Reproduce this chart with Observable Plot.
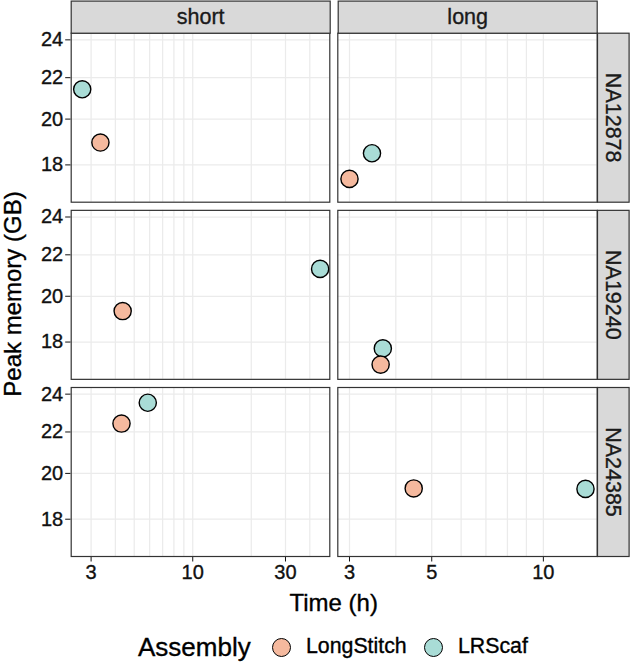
<!DOCTYPE html>
<html>
<head>
<meta charset="utf-8">
<script src="https://cdn.jsdelivr.net/npm/d3@7"></script>
<script src="https://cdn.jsdelivr.net/npm/@observablehq/plot@0.6"></script>
<style>
  html, body { margin: 0; padding: 0; background: #ffffff; }
  #chart { position: relative; width: 634px; height: 663px; overflow: hidden;
           font-family: "Liberation Sans", Arial, Helvetica, sans-serif; color: #000; }
  #chart svg text { stroke: currentColor; stroke-width: 0.35px; }
  .abs { position: absolute; }
  .lbl { position: absolute; line-height: 1; white-space: nowrap; -webkit-text-stroke: 0.35px #000; }
  .sw { position: absolute; box-sizing: border-box; border-radius: 50%; border: 1.4px solid #000; }
</style>
</head>
<body>
<div id="chart"></div>
<script>
// ---------------- data ----------------
const samples = ["NA12878", "NA19240", "NA24385"];
const readTypes = ["short", "long"];
const assemblies = ["LongStitch", "LRScaf"];
const assemblyColors = ["#F5B99E", "#A9DCD6"];

// short reads: time (h) and peak memory (GB), one value per sample
const shortTimeLongStitch = [3.35, 4.36, 4.30];
const shortMemLongStitch  = [18.95, 19.33, 22.43];
const shortTimeLRScaf     = [2.70, 45.2, 5.87];
const shortMemLRScaf      = [21.42, 21.30, 23.53];
// long reads
const longTimeLongStitch  = [3.00, 3.64, 4.47];
const longMemLongStitch   = [17.43, 17.09, 19.32];
const longTimeLRScaf      = [3.45, 3.69, 12.99];
const longMemLRScaf       = [18.49, 17.74, 19.30];

// ticks and grid breaks
const yTicks = [18, 20, 22, 24];
const shortXTicks = [3, 10, 30];
const longXTicks = [3, 5, 10];
const shortXGrid = [3, 4, 5, 6, 7, 8, 9, 10, 20, 30, 40];
const longXGrid = [3, 4, 5, 6, 7, 8, 9, 10];

const xTitle = "Time (h)";
const yTitle = "Peak memory (GB)";
const legendTitle = "Assembly";

// ---------------- build tables ----------------
function buildRows(tLS, mLS, tLR, mLR) {
  const rows = [];
  samples.forEach((s, i) => rows.push({sample: s, assembly: assemblies[1], time: tLR[i], mem: mLR[i]}));
  samples.forEach((s, i) => rows.push({sample: s, assembly: assemblies[0], time: tLS[i], mem: mLS[i]}));
  return rows;
}
const shortRows = buildRows(shortTimeLongStitch, shortMemLongStitch, shortTimeLRScaf, shortMemLRScaf);
const longRows  = buildRows(longTimeLongStitch, longMemLongStitch, longTimeLRScaf, longMemLRScaf);

// ---------------- layout ----------------
const FONT = '"Liberation Sans", Arial, Helvetica, sans-serif';
const panelTop = 32.7, panelBottom = 556, svgH = 600;
const rowGap = 8.15, rowBand = (panelBottom - panelTop - 2 * rowGap) / 3;
const fyPad = rowGap / (rowBand + rowGap);
const yDomain = [16.52, 24.37];
const chart = document.getElementById("chart");

function place(node, left, top) {
  const d = document.createElement("div");
  d.className = "abs";
  d.style.left = left + "px";
  d.style.top = top + "px";
  d.appendChild(node);
  chart.appendChild(d);
}

function columnPlot(rows, xDomain, xTicks, xGrid, showY, svgLeft, width, panelLeft, panelRight) {
  return Plot.plot({
    width, height: svgH,
    marginLeft: panelLeft - svgLeft,
    marginRight: width - (panelRight - svgLeft),
    marginTop: panelTop,
    marginBottom: svgH - panelBottom,
    style: {background: "transparent", fontFamily: FONT, fontSize: "20px", color: "#111", overflow: "visible"},
    facet: {data: rows, y: "sample"},
    fy: {domain: samples, paddingInner: fyPad, paddingOuter: 0, round: false, axis: null, label: null},
    x: {type: "log", domain: xDomain, ticks: xTicks, tickFormat: d => String(d), tickSize: 5.5, tickPadding: 3, label: null},
    y: {type: "log", domain: yDomain, ticks: yTicks, tickFormat: d => String(d), tickSize: 5.5, tickPadding: 2.5,
        label: null, axis: showY ? "left" : null},
    color: {domain: assemblies, range: assemblyColors},
    marks: [
      Plot.ruleX(xGrid, {stroke: "#ebebeb", strokeWidth: 1.25}),
      Plot.ruleY(yTicks, {stroke: "#ebebeb", strokeWidth: 1.25}),
      Plot.dot(rows, {x: "time", y: "mem", fill: "assembly", stroke: "#000", strokeWidth: 1.4, r: 8.6}),
      Plot.frame({stroke: "#333333", strokeWidth: 1.2})
    ]
  });
}

const col1 = [70.7, 329.3], col2 = [337.3, 596.7], stripRight = 628.3;

place(columnPlot(shortRows, [2.37, 50.7], shortXTicks, shortXGrid, true, 0, 331, col1[0], col1[1]), 0, 0);
place(columnPlot(longRows, [2.79, 13.97], longXTicks, longXGrid, false, 331, 267, col2[0], col2[1]), 331, 0);

// top strips
const colGap = col2[0] - col1[1];
const colStep = (col2[1] - col1[0] + colGap) / 2;
const topStrip = Plot.plot({
  width: 634, height: 34,
  marginLeft: col1[0], marginRight: 634 - col2[1], marginTop: 0.6, marginBottom: 34 - panelTop,
  style: {background: "transparent", fontFamily: FONT, fontSize: "21.5px", color: "#1a1a1a", overflow: "visible"},
  facet: {data: readTypes, x: d => d},
  fx: {domain: readTypes, paddingInner: colGap / colStep, paddingOuter: 0, round: false, axis: null, label: null},
  marks: [
    Plot.frame({fill: "#d9d9d9", stroke: "#333333", strokeWidth: 1.2}),
    Plot.text(readTypes, {text: d => d, frameAnchor: "middle", fill: "currentColor"})
  ]
});
place(topStrip, 0, 0);

// right strips
const rightStrip = Plot.plot({
  width: 34, height: svgH,
  marginLeft: 1, marginRight: 34 - 1 - (stripRight - col2[1]), marginTop: panelTop, marginBottom: svgH - panelBottom,
  style: {background: "transparent", fontFamily: FONT, fontSize: "21.5px", color: "#1a1a1a", overflow: "visible"},
  facet: {data: samples, y: d => d},
  fy: {domain: samples, paddingInner: fyPad, paddingOuter: 0, round: false, axis: null, label: null},
  marks: [
    Plot.frame({fill: "#d9d9d9", stroke: "#333333", strokeWidth: 1.2}),
    Plot.text(samples, {text: d => d, frameAnchor: "middle", rotate: 90, fill: "currentColor"})
  ]
});
place(rightStrip, col2[1] - 1, 0);

// axis titles
function label(text, size, left, top, extra) {
  const d = document.createElement("div");
  d.className = "lbl";
  d.textContent = text;
  d.style.fontSize = size + "px";
  d.style.left = left + "px";
  d.style.top = top + "px";
  d.style.transform = "translate(-50%,-50%)" + (extra || "");
  chart.appendChild(d);
  return d;
}
label(xTitle, 24, (col1[0] + col2[1]) / 2, 603.3);
label(yTitle, 24, 12.8, (panelTop + panelBottom) / 2, " rotate(-90deg)");

// legend
const legY = 647.3;
function legText(text, size, left) {
  const d = document.createElement("div");
  d.className = "lbl";
  d.textContent = text;
  d.style.fontSize = size + "px";
  d.style.left = left + "px";
  d.style.top = legY + "px";
  d.style.transform = "translateY(-50%)";
  chart.appendChild(d);
}
function legSwatch(color, cx) {
  const d = document.createElement("div");
  d.className = "sw";
  d.style.width = "19px"; d.style.height = "19px";
  d.style.left = (cx - 9.5) + "px";
  d.style.top = (legY - 9.5) + "px";
  d.style.background = color;
  chart.appendChild(d);
}
legText(legendTitle, 26, 138);
legSwatch(assemblyColors[0], 281);
legText(assemblies[0], 21.3, 306);
legSwatch(assemblyColors[1], 433.3);
legText(assemblies[1], 21.3, 458);
</script>
</body>
</html>
